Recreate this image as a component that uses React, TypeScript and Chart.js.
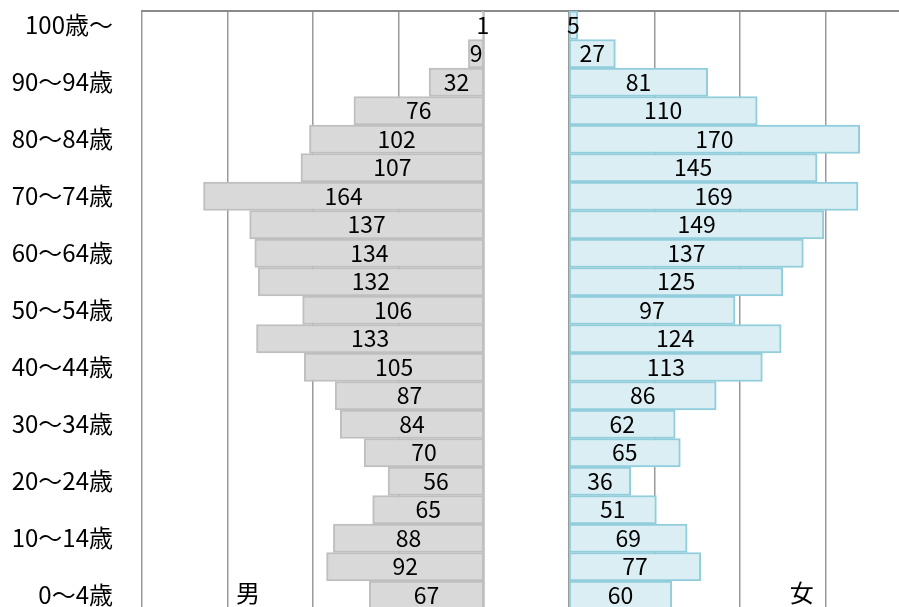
import React, { useEffect, useRef } from "react";
import { Chart, registerables } from "chart.js";

Chart.register(...registerables);

const categories = [
  "100歳～", "95～99歳", "90～94歳", "85～89歳", "80～84歳", "75～79歳", "70～74歳",
  "65～69歳", "60～64歳", "55～59歳", "50～54歳", "45～49歳", "40～44歳", "35～39歳",
  "30～34歳", "25～29歳", "20～24歳", "15～19歳", "10～14歳", "5～9歳", "0～4歳",
];
const maleValues = [1, 9, 32, 76, 102, 107, 164, 137, 134, 132, 106, 133, 105, 87, 84, 70, 56, 65, 88, 92, 67];
const femaleValues = [5, 27, 81, 110, 170, 145, 169, 149, 137, 125, 97, 124, 113, 86, 62, 65, 36, 51, 69, 77, 60];
const maleLabel = "男";
const femaleLabel = "女";
const gap = 25; // half-width of the central gap, in value units
const axisTicks = [-225, -175, -125, -75, -25, 25, 75, 125, 175, 225];

const FONT = "'Noto Sans CJK JP', 'Noto Sans', sans-serif";

export default function App() {
  const ref = useRef<HTMLCanvasElement | null>(null);

  useEffect(() => {
    if (!ref.current) return;
    const labelPlugin = {
      id: "barLabels",
      afterDatasetsDraw(chart: any) {
        const ctx = chart.ctx;
        ctx.save();
        ctx.fillStyle = "#000";
        ctx.font = `23px ${FONT}`;
        ctx.textAlign = "center";
        ctx.textBaseline = "middle";
        const sets = [maleValues, femaleValues];
        sets.forEach((vals, i) => {
          const meta = chart.getDatasetMeta(i);
          meta.data.forEach((el: any, j: number) => {
            const p = el.getProps(["x", "base", "y"], true);
            ctx.fillText(String(vals[j]), (p.x + p.base) / 2, p.y);
          });
        });
        const xs = chart.scales.x;
        const ys = chart.scales.y;
        const yLast = ys.getPixelForValue(categories.length - 1) - 2;
        ctx.font = `24px ${FONT}`;
        ctx.fillText(maleLabel, xs.getPixelForValue(-163), yLast);
        ctx.fillText(femaleLabel, xs.getPixelForValue(161), yLast);
        ctx.restore();
      },
    };

    const chart = new Chart(ref.current, {
      type: "bar",
      data: {
        labels: categories,
        datasets: [
          {
            label: maleLabel,
            data: maleValues.map((v) => [-gap, -gap - v]) as any,
            backgroundColor: "#d9d9d9",
            borderColor: "#bfbfbf",
            borderWidth: 2,
            borderSkipped: false,
          },
          {
            label: femaleLabel,
            data: femaleValues.map((v) => [gap, gap + v]) as any,
            backgroundColor: "#daeef3",
            borderColor: "#92cddc",
            borderWidth: 2,
            borderSkipped: false,
          },
        ],
      },
      options: {
        indexAxis: "y",
        responsive: false,
        animation: false,
        events: [],
        datasets: { bar: { grouped: false, barPercentage: 1, categoryPercentage: 1 } as any },
        layout: { padding: { top: 11, right: 19, bottom: 10.5, left: 0 } },
        plugins: { legend: { display: false }, tooltip: { enabled: false } },
        scales: {
          x: {
            type: "linear",
            position: "top",
            min: -225,
            max: 225,
            afterBuildTicks: (scale: any) => {
              scale.ticks = axisTicks.map((v) => ({ value: v }));
            },
            afterFit: (scale: any) => {
              scale.height = 0;
              scale.paddingLeft = 0;
              scale.paddingRight = 0;
            },
            ticks: { display: false },
            grid: { color: "#9a9a9a", lineWidth: 1.5, drawTicks: false },
            border: { display: true, color: "#8a8a8a", width: 2 },
          },
          y: {
            type: "category",
            afterFit: (scale: any) => {
              scale.width = 142;
              scale.paddingTop = 0;
              scale.paddingBottom = 0;
            },
            grid: { display: false, drawTicks: false },
            border: { display: false },
            ticks: {
              autoSkip: false,
              padding: 29,
              color: "#000",
              font: { family: FONT, size: 24 },
              callback: (_v: any, i: number) => (i % 2 === 0 ? categories[i] : ""),
            },
          },
        },
      },
      plugins: [labelPlugin],
    } as any);
    return () => chart.destroy();
  }, []);

  return (
    <div
      style={{
        position: "fixed",
        left: 0,
        top: 0,
        width: 899,
        height: 607,
        overflow: "hidden",
        background: "#fff",
      }}
    >
      <canvas ref={ref} width={930} height={620} style={{ display: "block", width: 930, height: 620 }} />
    </div>
  );
}
